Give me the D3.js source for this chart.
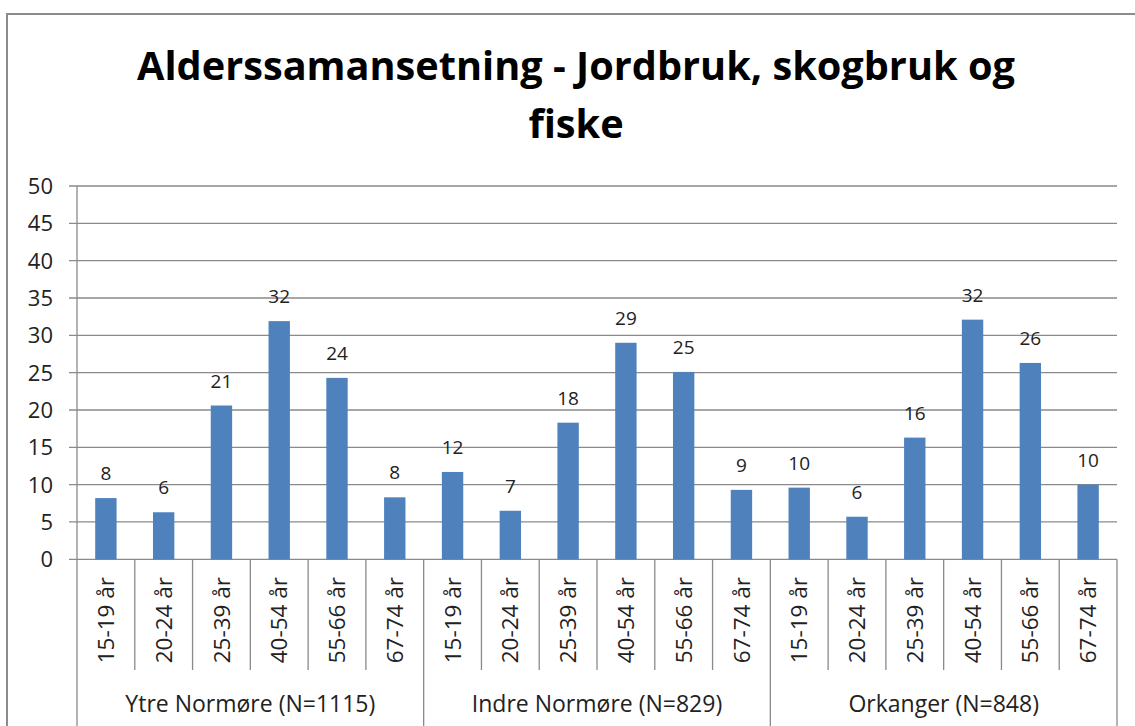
<!DOCTYPE html>
<html>
<head>
<meta charset="utf-8">
<script src="https://cdn.jsdelivr.net/npm/d3@7"></script>
<style>
  html, body { margin: 0; padding: 0; background: #fff; }
  svg { display: block; font-family: "Open Sans", sans-serif; }
</style>
</head>
<body>
<div id="chart"></div>
<script>
// data
const groups = ["Ytre Normøre (N=1115)", "Indre Normøre (N=829)", "Orkanger (N=848)"];
const ageBands = ["15-19 år", "20-24 år", "25-39 år", "40-54 år", "55-66 år", "67-74 år"];
const ytreValues = [8.2, 6.3, 20.6, 31.9, 24.3, 8.3];
const indreValues = [11.7, 6.5, 18.3, 29.0, 25.1, 9.3];
const orkangerValues = [9.6, 5.7, 16.3, 32.1, 26.3, 10.0];
const yTicks = [0, 5, 10, 15, 20, 25, 30, 35, 40, 45, 50];
const titleLines = ["Alderssamansetning - Jordbruk, skogbruk og", "fiske"];

const seriesByGroup = [ytreValues, indreValues, orkangerValues];
const rows = groups.flatMap((g, gi) =>
  ageBands.map((a, ai) => ({ group: g, gi, band: a, value: seriesByGroup[gi][ai], key: gi + "|" + a })));

// ---- Layout ----
const width = 1135, height = 726;
const plot = { left: 77, right: 1117, top: 186, bottom: 559.3 };
const gridColor = "#8a8a8a";
const barColor = "#4f81bd";

const svg = d3.select("#chart").append("svg")
  .attr("width", width)
  .attr("height", height);

svg.append("rect").attr("width", width).attr("height", height).attr("fill", "#fff");

// outer chart frame (right and bottom edges are cut off in the picture)
svg.append("rect")
  .attr("x", 7).attr("y", 14)
  .attr("width", width + 20).attr("height", height)
  .attr("fill", "none")
  .attr("stroke", "#8c8c8c")
  .attr("stroke-width", 2);

// title, sized to the width of the original first line
const title = svg.append("g")
  .attr("font-weight", 700)
  .attr("text-anchor", "middle")
  .attr("fill", "#000");
const t1 = title.append("text").attr("x", 576).attr("y", 80).attr("font-size", 40).text(titleLines[0]);
const fitSize = 40 * 878 / t1.node().getComputedTextLength();
t1.attr("font-size", fitSize);
title.append("text").attr("x", 576).attr("y", 138).attr("font-size", fitSize).text(titleLines[1]);

// scales
const x = d3.scaleBand()
  .domain(rows.map(d => d.key))
  .range([plot.left, plot.right])
  .padding(0);
const y = d3.scaleLinear([0, 50], [plot.bottom, plot.top]);
const barW = x.bandwidth() * 0.37;

// gridlines + y tick labels
const yAxis = svg.append("g");
yAxis.selectAll("line")
  .data(yTicks)
  .join("line")
  .attr("x1", plot.left - 8)
  .attr("x2", plot.right)
  .attr("y1", d => y(d))
  .attr("y2", d => y(d))
  .attr("stroke", gridColor)
  .attr("stroke-width", 1.3);
yAxis.selectAll("text")
  .data(yTicks)
  .join("text")
  .attr("x", 53)
  .attr("y", d => y(d))
  .attr("dy", "0.36em")
  .attr("text-anchor", "end")
  .attr("font-size", 22)
  .attr("fill", "#222")
  .text(d => d);

// vertical axis line
svg.append("line")
  .attr("x1", plot.left).attr("x2", plot.left)
  .attr("y1", plot.top).attr("y2", 726)
  .attr("stroke", gridColor).attr("stroke-width", 1.3);

// category separators below the axis
const bounds = d3.range(1, rows.length + 1);
svg.append("g").selectAll("line")
  .data(bounds)
  .join("line")
  .attr("x1", i => plot.left + i * x.step())
  .attr("x2", i => plot.left + i * x.step())
  .attr("y1", plot.bottom)
  .attr("y2", i => i % ageBands.length === 0 ? 726 : 670)
  .attr("stroke", gridColor)
  .attr("stroke-width", 1.3);

// bars
svg.append("g").selectAll("rect")
  .data(rows)
  .join("rect")
  .attr("x", d => x(d.key) + (x.bandwidth() - barW) / 2)
  .attr("y", d => y(d.value))
  .attr("width", barW)
  .attr("height", d => y(0) - y(d.value))
  .attr("fill", barColor);

// value labels
svg.append("g").selectAll("text")
  .data(rows)
  .join("text")
  .attr("x", d => x(d.key) + x.bandwidth() / 2)
  .attr("y", d => y(d.value) - 18)
  .attr("text-anchor", "middle")
  .attr("font-size", 19)
  .attr("fill", "#222")
  .text(d => Math.round(d.value));

// rotated age labels
svg.append("g").selectAll("text")
  .data(rows)
  .join("text")
  .attr("transform", d => `translate(${x(d.key) + x.bandwidth() / 2},577) rotate(-90)`)
  .attr("dy", "0.36em")
  .attr("text-anchor", "end")
  .attr("font-size", 22.5)
  .attr("fill", "#222")
  .text(d => d.band);

// group labels
svg.append("g").selectAll("text")
  .data(groups)
  .join("text")
  .attr("x", (g, gi) => plot.left + (gi + 0.5) * ageBands.length * x.step())
  .attr("y", 712)
  .attr("text-anchor", "middle")
  .attr("font-size", 23)
  .attr("fill", "#222")
  .text(g => g);
</script>
</body>
</html>
